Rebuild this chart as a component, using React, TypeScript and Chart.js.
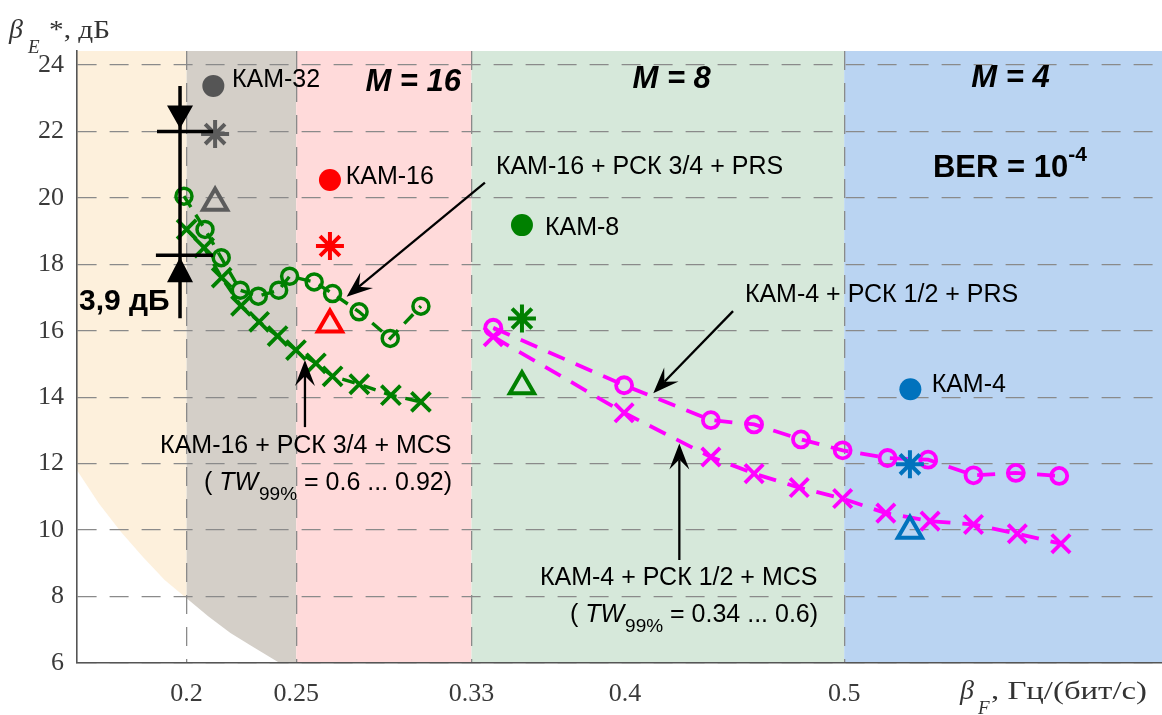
import { useEffect, useRef } from 'react';
import { Chart, registerables } from 'chart.js';
Chart.register(...registerables);

// ---- axes ----
const xTicks = [0.2, 0.25, 0.33, 0.4, 0.5];
const yTicks = [6, 8, 10, 12, 14, 16, 18, 20, 22, 24];
const xMin = 0.15;
const xMax = 0.645;
const yMin = 6;
const yMax = 24.42;

// ---- modulation-order zones ----
const zoneEdges = [0.15, 0.2, 0.25, 0.33, 0.5, 0.645];
const zoneColors = ['#fdf0dc', '#d4cfc8', '#ffdada', '#d6e8da', '#bad4f2'];

// ---- bound (white area below the curve) ----
const boundX = [0.15, 0.16, 0.17, 0.18, 0.19, 0.2, 0.21, 0.22, 0.23, 0.24, 0.2425];
const boundY = [11.8, 10.8, 9.95, 9.2, 8.5, 7.95, 7.4, 6.9, 6.5, 6.1, 6.0];

// ---- КАМ-16 + РСК 3/4 + PRS ----
const prs16X = [0.1988, 0.2084, 0.2158, 0.2245, 0.2327, 0.242, 0.247, 0.2582, 0.2666, 0.2787, 0.2929, 0.3069];
const prs16Y = [20.05, 19.05, 18.2, 17.22, 17.04, 17.22, 17.64, 17.47, 17.12, 16.57, 15.77, 16.74];
// ---- КАМ-16 + РСК 3/4 + MCS ----
const mcs16X = [0.2, 0.208, 0.216, 0.2248, 0.2331, 0.2415, 0.2499, 0.259, 0.2666, 0.2788, 0.2932, 0.3069];
const mcs16Y = [19.05, 18.5, 17.6, 16.75, 16.27, 15.84, 15.42, 15.02, 14.63, 14.39, 14.06, 13.86];
// ---- КАМ-4 + РСК 1/2 + PRS ----
const prs4X = [0.3399, 0.3996, 0.4392, 0.4589, 0.4803, 0.4993, 0.5198, 0.5383, 0.559, 0.5783, 0.5981];
const prs4Y = [16.09, 14.36, 13.31, 13.18, 12.73, 12.4, 12.17, 12.12, 11.65, 11.72, 11.63];
// ---- КАМ-4 + РСК 1/2 + MCS ----
const mcs4X = [0.3399, 0.3996, 0.4392, 0.4589, 0.4795, 0.4993, 0.519, 0.5392, 0.559, 0.579, 0.5989];
const mcs4Y = [15.82, 13.53, 12.2, 11.7, 11.28, 10.95, 10.51, 10.27, 10.17, 9.89, 9.59];

// ---- single reference points ----
const refNames = ['КАМ-32', 'КАМ-16', 'КАМ-8', 'КАМ-4'];
const dotX = [0.2122, 0.2654, 0.353, 0.5302];
const dotY = [23.37, 20.54, 19.18, 14.24];
const starX = [0.213, 0.2654, 0.353, 0.53];
const starY = [21.92, 18.55, 16.37, 11.98];
const triX = [0.213, 0.2654, 0.353, 0.53];
const triY = [19.85, 16.19, 14.33, 9.98];
const dotColors = ['#555555', '#ff0000', '#008000', '#0072bd'];
const refColors = ['#5c5c5c', '#ff0000', '#008000', '#0072bd'];
const refLabelX = [0.2207, 0.2726, 0.3635, 0.5399];
const refLabelY = [23.53, 20.61, 19.1, 14.36];

const GREEN = '#008000';
const MAGENTA = '#ff00ff';
const SANS = '"Liberation Sans", Arial, sans-serif';
const SERIF = '"Liberation Serif", "Times New Roman", serif';

const pts = (xs: number[], ys: number[]) => xs.map((x, i) => ({ x, y: ys[i] }));

function arrow(ctx: CanvasRenderingContext2D, x1: number, y1: number, x2: number, y2: number) {
  const a = Math.atan2(y2 - y1, x2 - x1);
  const ux = Math.cos(a), uy = Math.sin(a);
  const nx = -uy, ny = ux;
  const L = 26, W = 10, N = 16;
  ctx.save();
  ctx.strokeStyle = '#000';
  ctx.fillStyle = '#000';
  ctx.lineWidth = 2.3;
  ctx.beginPath();
  ctx.moveTo(x1, y1);
  ctx.lineTo(x2 - N * ux, y2 - N * uy);
  ctx.stroke();
  ctx.beginPath();
  ctx.moveTo(x2, y2);
  ctx.lineTo(x2 - L * ux + W * nx, y2 - L * uy + W * ny);
  ctx.lineTo(x2 - N * ux, y2 - N * uy);
  ctx.lineTo(x2 - L * ux - W * nx, y2 - L * uy - W * ny);
  ctx.closePath();
  ctx.fill();
  ctx.restore();
}

function fitText(ctx: CanvasRenderingContext2D, s: string, x: number, y: number, font: string, width: number) {
  ctx.font = font;
  const w = ctx.measureText(s).width;
  ctx.save();
  ctx.translate(x, y);
  ctx.scale(width / w, 1);
  ctx.textAlign = 'left';
  ctx.fillText(s, 0, 0);
  ctx.restore();
}

const backgroundPlugin = {
  id: 'zones',
  beforeDraw(chart: any) {
    const { ctx, chartArea } = chart;
    const xs = chart.scales.x, ys = chart.scales.y;
    ctx.save();
    ctx.fillStyle = '#ffffff';
    ctx.fillRect(0, 0, chart.width, chart.height);
    for (let i = 0; i < zoneColors.length; i++) {
      const a = xs.getPixelForValue(zoneEdges[i]);
      const b = xs.getPixelForValue(zoneEdges[i + 1]);
      ctx.fillStyle = zoneColors[i];
      ctx.fillRect(a, chartArea.top, b - a, chartArea.bottom - chartArea.top);
    }
    ctx.beginPath();
    ctx.moveTo(xs.getPixelForValue(boundX[0]), ys.getPixelForValue(boundY[0]));
    for (let i = 1; i < boundX.length; i++) {
      ctx.lineTo(xs.getPixelForValue(boundX[i]), ys.getPixelForValue(boundY[i]));
    }
    ctx.lineTo(xs.getPixelForValue(boundX[boundX.length - 1]), chartArea.bottom);
    ctx.lineTo(chartArea.left, chartArea.bottom);
    ctx.closePath();
    ctx.fillStyle = '#ffffff';
    ctx.fill();
    ctx.restore();
  },
};

const annotationPlugin = {
  id: 'annotations',
  afterDatasetsDraw(chart: any) {
    const { ctx } = chart;
    const xs = chart.scales.x, ys = chart.scales.y;
    const X = (v: number) => xs.getPixelForValue(v);
    const Y = (v: number) => ys.getPixelForValue(v);
    ctx.save();
    ctx.fillStyle = '#000';
    ctx.textBaseline = 'middle';
    ctx.textAlign = 'left';

    const label = (s: string, x: number, y: number, font: string, align: CanvasTextAlign = 'left') => {
      ctx.font = font;
      ctx.textAlign = align;
      ctx.fillText(s, X(x), Y(y));
    };

    // reference point names
    const f25 = `25px ${SANS}`;
    refNames.forEach((n, i) => label(n, refLabelX[i], refLabelY[i], f25));

    // curve captions
    label('КАМ-16 + РСК 3/4 + PRS', 0.3411, 20.94, f25);
    label('КАМ-4 + РСК 1/2 + PRS', 0.4547, 17.07, f25);
    label('КАМ-16 + РСК 3/4 + MCS', 0.1879, 12.53, f25);
    label('КАМ-4 + РСК 1/2 + MCS', 0.3612, 8.55, f25);

    const twLine = (x: number, y: number, rest: string) => {
      let px = X(x);
      const py = Y(y);
      ctx.textAlign = 'left';
      ctx.font = f25;
      ctx.fillText('( ', px, py);
      px += ctx.measureText('( ').width;
      ctx.font = `italic 25px ${SANS}`;
      ctx.fillText('TW', px, py);
      px += ctx.measureText('TW').width + 1;
      ctx.font = `19px ${SANS}`;
      ctx.fillText('99%', px, py + 12);
      px += ctx.measureText('99%').width;
      ctx.font = f25;
      ctx.fillText(rest, px, py);
    };
    twLine(0.2079, 11.41, ' = 0.6 ... 0.92)');
    twLine(0.3749, 7.44, ' = 0.34 ... 0.6)');

    // zone titles
    const fM = `italic bold 31px ${SANS}`;
    label('M = 16', 0.3034, 23.47, fM, 'center');
    label('M = 8', 0.4213, 23.55, fM, 'center');
    label('M = 4', 0.5759, 23.6, fM, 'center');

    // BER
    ctx.font = `bold 31px ${SANS}`;
    ctx.textAlign = 'left';
    const berX = X(0.5405);
    ctx.fillText('BER = 10', berX, Y(20.87));
    const bw = ctx.measureText('BER = 10').width;
    ctx.font = `bold 21px ${SANS}`;
    ctx.fillText('-4', berX + bw, Y(21.27));

    // 3,9 dB measure
    label('3,9 дБ', 0.1509, 16.87, `bold 30px ${SANS}`);
    ctx.strokeStyle = '#000';
    ctx.lineWidth = 3.5;
    const mx = X(0.197);
    ctx.beginPath();
    ctx.moveTo(mx, Y(23.37));
    ctx.lineTo(mx, Y(16.38));
    ctx.moveTo(X(0.1865), Y(22));
    ctx.lineTo(X(0.2121), Y(22));
    ctx.moveTo(X(0.186), Y(18.27));
    ctx.lineTo(X(0.2121), Y(18.27));
    ctx.stroke();
    ctx.beginPath();
    const t1 = Y(22) - 3;
    ctx.moveTo(mx, t1);
    ctx.lineTo(mx - 13, t1 - 23);
    ctx.lineTo(mx + 13, t1 - 23);
    ctx.closePath();
    const t2 = Y(18.27) + 2;
    ctx.moveTo(mx, t2);
    ctx.lineTo(mx - 13, t2 + 25);
    ctx.lineTo(mx + 13, t2 + 25);
    ctx.closePath();
    ctx.fill();

    // pointer arrows
    arrow(ctx, X(0.3361), Y(20.46), X(0.273), Y(17.02));
    arrow(ctx, X(0.4493), Y(16.59), X(0.4129), Y(14.12));
    arrow(ctx, X(0.254), Y(13.1), X(0.254), Y(15.12));
    arrow(ctx, X(0.4248), Y(9.1), X(0.4248), Y(12.61));

    // axis titles
    ctx.fillStyle = '#333';
    ctx.textBaseline = 'alphabetic';
    ctx.textAlign = 'left';
    ctx.font = `italic 28px ${SERIF}`;
    ctx.fillText('β', 9, 38);
    ctx.font = `italic 19px ${SERIF}`;
    ctx.fillText('E', 28, 53);
    fitText(ctx, '*, дБ', 49, 38, `25px ${SERIF}`, 61);

    ctx.font = `italic 28px ${SERIF}`;
    ctx.fillText('β', 960, 699);
    ctx.font = `italic 19px ${SERIF}`;
    ctx.fillText('F', 978, 714);
    fitText(ctx, ', Гц/(бит/с)', 991, 699, `26px ${SERIF}`, 156);
    ctx.restore();
  },
};

export default function App() {
  const ref = useRef<HTMLCanvasElement>(null);
  useEffect(() => {
    const canvas = ref.current;
    if (!canvas) return;
    const gridColor = '#8a8a8a';
    const chart = new Chart(canvas, {
      type: 'scatter',
      data: {
        datasets: [
          {
            label: 'stars',
            data: pts(starX, starY),
            showLine: false,
            pointStyle: 'star',
            pointRadius: 14,
            pointBorderWidth: 4,
            pointBorderColor: refColors,
            pointBackgroundColor: refColors,
          } as any,
          {
            label: 'triangles',
            data: pts(triX, triY),
            showLine: false,
            pointStyle: 'triangle',
            pointRadius: 14,
            pointBorderWidth: 4,
            pointBorderColor: refColors,
            pointBackgroundColor: 'rgba(0,0,0,0)',
          },
          {
            label: 'uncoded',
            data: pts(dotX, dotY),
            showLine: false,
            pointStyle: 'circle',
            pointRadius: 11,
            pointBorderWidth: 0,
            pointBackgroundColor: dotColors,
          },
          {
            label: 'КАМ-16 + РСК 3/4 + PRS',
            data: pts(prs16X, prs16Y),
            showLine: true,
            borderColor: GREEN,
            borderWidth: 3.4,
            borderDash: [13, 9],
            pointStyle: 'circle',
            pointRadius: 8,
            pointBorderWidth: 3.5,
            pointBorderColor: GREEN,
            pointBackgroundColor: 'rgba(0,0,0,0)',
          },
          {
            label: 'КАМ-16 + РСК 3/4 + MCS',
            data: pts(mcs16X, mcs16Y),
            showLine: true,
            borderColor: GREEN,
            borderWidth: 3.4,
            borderDash: [13, 9],
            pointStyle: 'crossRot',
            pointRadius: 13.5,
            pointBorderWidth: 3.8,
            pointBorderColor: GREEN,
          },
          {
            label: 'КАМ-4 + РСК 1/2 + PRS',
            data: pts(prs4X, prs4Y),
            showLine: true,
            borderColor: MAGENTA,
            borderWidth: 3.8,
            borderDash: [18, 12],
            pointStyle: 'circle',
            pointRadius: 8,
            pointBorderWidth: 3.8,
            pointBorderColor: MAGENTA,
            pointBackgroundColor: 'rgba(0,0,0,0)',
          },
          {
            label: 'КАМ-4 + РСК 1/2 + MCS',
            data: pts(mcs4X, mcs4Y),
            showLine: true,
            borderColor: MAGENTA,
            borderWidth: 3.8,
            borderDash: [18, 12],
            pointStyle: 'crossRot',
            pointRadius: 13,
            pointBorderWidth: 3.8,
            pointBorderColor: MAGENTA,
          },
        ],
      },
      options: {
        responsive: false,
        maintainAspectRatio: false,
        animation: false,
        events: [],
        layout: { autoPadding: false, padding: { top: 51, right: 0, left: 0, bottom: 0 } },
        plugins: {
          legend: { display: false },
          tooltip: { enabled: false },
        },
        scales: {
          x: {
            type: 'linear',
            min: xMin,
            max: xMax,
            afterBuildTicks: (s: any) => {
              s.ticks = xTicks.map((v) => ({ value: v }));
            },
            afterFit: (s: any) => {
              s.height = 52;
              s.paddingLeft = 0;
              s.paddingRight = 0;
            },
            ticks: {
              autoSkip: false,
              maxRotation: 0,
              padding: 16,
              color: '#3a3a3a',
              font: { family: SERIF, size: 26 },
              callback: (v: any) => String(v),
            },
            grid: {
              drawTicks: false,
              lineWidth: 1.3,
              color: (c: any) => (c.tick && Math.abs(c.tick.value - 0.4) < 1e-9 ? 'rgba(0,0,0,0)' : gridColor),
            },
            border: { display: true, color: '#555555', width: 1.6, dash: [19, 13] },
          },
          y: {
            type: 'linear',
            min: yMin,
            max: yMax,
            afterBuildTicks: (s: any) => {
              s.ticks = yTicks.map((v) => ({ value: v }));
            },
            afterFit: (s: any) => {
              s.width = 77;
              s.paddingTop = 0;
              s.paddingBottom = 0;
            },
            ticks: {
              autoSkip: false,
              padding: 13,
              color: '#3a3a3a',
              font: { family: SERIF, size: 26 },
              callback: (v: any) => String(v),
            },
            grid: { drawTicks: false, lineWidth: 1.3, color: gridColor },
            border: { display: true, color: '#555555', width: 1.6, dash: [19, 13] },
          },
        },
      } as any,
      plugins: [backgroundPlugin, annotationPlugin],
    });
    return () => chart.destroy();
  }, []);
  return (
    <div style={{ position: 'absolute', left: 0, top: 0, width: 1162, height: 715, background: '#fff' }}>
      <canvas ref={ref} width={1162} height={715} style={{ display: 'block', width: 1162, height: 715 }} />
    </div>
  );
}
